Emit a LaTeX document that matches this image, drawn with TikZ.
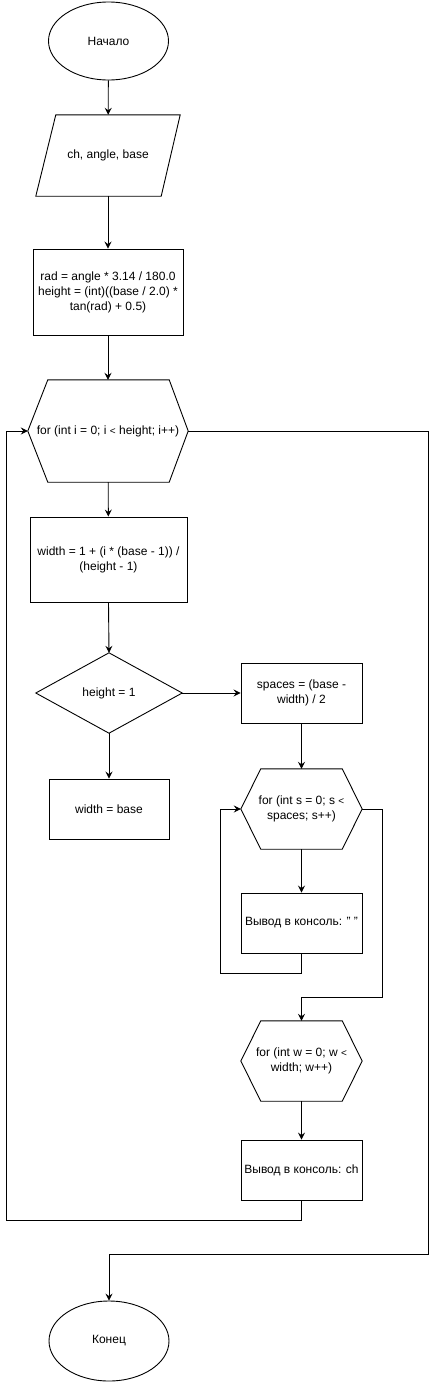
\documentclass[tikz,border=0pt]{standalone}
\usepackage{fontspec}
\setmainfont{Liberation Sans}
\usetikzlibrary{arrows.meta,calc,shapes.geometric}
\begin{document}
\begin{tikzpicture}[x=1pt,y=-1pt,
  every node/.style={font=\fontsize{12}{15}\selectfont, align=center, inner sep=0pt},
  arr/.style={-{Stealth[length=7pt,width=7pt,inset=2.5pt]}, line width=0.9pt},
  ln/.style={line width=0.9pt},
  box/.style={draw, line width=0.9pt, rectangle},
  oval/.style={draw, line width=0.9pt, ellipse},
  ghost/.style={rectangle, draw=none}]
\useasboundingbox (0,0) rectangle (437,1382);
\fill[white] (0,0) rectangle (437,1382);

\node[oval, minimum width=120pt, minimum height=78pt] (start) at (108.5,41) {Начало};
\node[ghost, minimum width=144pt, minimum height=81pt] (in) at (108,155.5) {ch, angle, base};
\draw[ln] ($(in.north west)+(20,0)$) -- (in.north east) -- ($(in.south east)+(-19,0)$) -- (in.south west) -- cycle;
\node[box, minimum width=150pt, minimum height=86pt] (r1) at (108,292) {rad = angle * 3.14 / 180.0\\height = (int)((base / 2.0) *\\tan(rad) + 0.5)};
\node[ghost, minimum width=160pt, minimum height=102pt] (h1) at (108,431) {for (int i = 0; i {\fontsize{10}{12}\selectfont<} height; i++)};
\draw[ln] ($(h1.north west)+(20,0)$) -- ($(h1.north east)+(-19,0)$) -- (h1.east) -- ($(h1.south east)+(-19,0)$) -- ($(h1.south west)+(20,0)$) -- (h1.west) -- cycle;
\node[box, minimum width=157pt, minimum height=85pt] (r2) at (108.5,559.5) {width = 1 + (i * (base - 1)) /\\(height - 1)};
\node[ghost, minimum width=146pt, minimum height=80pt] (d) at (109,693) {height = 1};
\draw[ln] (d.north) -- (d.east) -- (d.south) -- (d.west) -- cycle;
\node[box, minimum width=121pt, minimum height=60pt] (sp) at (301.5,693) {spaces = (base -\\width) / 2};
\node[box, minimum width=120pt, minimum height=60pt] (wb) at (109,809) {width = base};
\node[ghost, minimum width=121pt, minimum height=80pt] (h2) at (301.5,809) {for (int s = 0; s {\fontsize{10}{12}\selectfont<}\\spaces; s++)};
\draw[ln] ($(h2.north west)+(20,0)$) -- ($(h2.north east)+(-20,0)$) -- (h2.east) -- ($(h2.south east)+(-20,0)$) -- ($(h2.south west)+(20,0)$) -- (h2.west) -- cycle;
\node[box, minimum width=121pt, minimum height=60pt] (o1) at (301.5,923) {Вывод в консоль: " "};
\node[ghost, minimum width=121pt, minimum height=80pt] (h3) at (301.5,1061) {for (int w = 0; w {\fontsize{10}{12}\selectfont<}\\width; w++)};
\draw[ln] ($(h3.north west)+(20,0)$) -- ($(h3.north east)+(-20,0)$) -- (h3.east) -- ($(h3.south east)+(-20,0)$) -- ($(h3.south west)+(20,0)$) -- (h3.west) -- cycle;
\node[box, minimum width=121pt, minimum height=60pt] (o2) at (301.5,1170) {Вывод в консоль: ch};
\node[oval, minimum width=120pt, minimum height=80pt] (end) at (109,1341) {Конец};

\draw[arr] (start) -- (in);
\draw[arr] (in) -- (r1);
\draw[arr] (r1) -- (h1);
\draw[arr] (h1) -- (r2);
\draw[arr] (r2.south) -- (d.north);
\draw[arr] (d.east) -- (sp.west);
\draw[arr] (d.south) -- (wb.north);
\draw[arr] (sp) -- (h2);
\draw[arr] (h2) -- (o1);
\draw[arr] (o1.south) -- ++(0,20) -| ([xshift=-20pt]h2.west) -- (h2.west);
\draw[arr] (h2.east) -- ++(20,0) |- ([yshift=23pt]h3.north) -- (h3.north);
\draw[arr] (h3) -- (o2);
\draw[arr] (o2.south) -- ++(0,20) -| ([xshift=-21pt]h1.west) -- (h1.west);
\draw[arr] (h1.east) -- ++(240,0) |- ([yshift=46pt]end.north) -- (end.north);
\end{tikzpicture}
\end{document}
